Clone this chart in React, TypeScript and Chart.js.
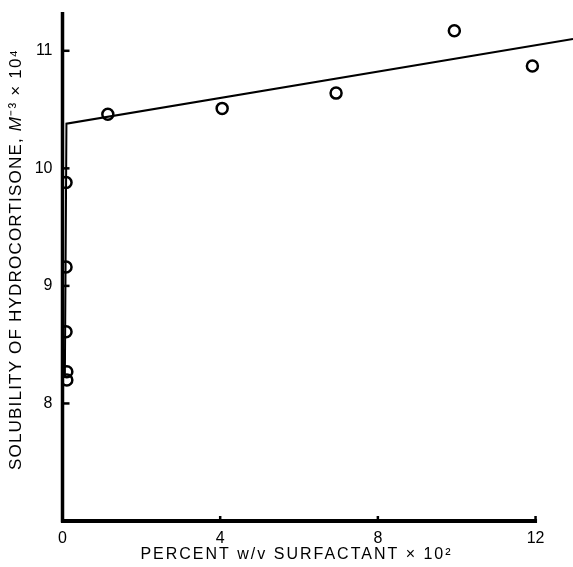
import React, { useEffect, useRef } from 'react';
import { Chart, registerables } from 'chart.js';

Chart.register(...registerables);

// Measured points (percent w/v surfactant x 10^2, solubility M^-3 x 10^4)
const POINT_X = [0.09, 0.09, 0.09, 0.11, 0.11, 1.15, 4.05, 6.94, 9.94, 11.92];
const POINT_Y = [9.88, 9.16, 8.61, 8.27, 8.2, 10.46, 10.51, 10.64, 11.17, 10.87];
// Drawn fit line
const LINE_X = [0.06, 0.1, 12.95];
const LINE_Y = [8.22, 10.38, 11.1];

const X_TICKS = [0, 4, 8, 12];
const Y_TICKS = [8, 9, 10, 11];
const X_MIN = 0;
const X_MAX = 12.95;
const Y_MIN = 7;
const Y_MAX = 11.33;

const X_TITLE = 'PERCENT w/v SURFACTANT × 10²';
const Y_TITLE_PARTS: [string, boolean][] = [
  ['SOLUBILITY OF HYDROCORTISONE, ', false],
  ['M', true],
  ['⁻³ × 10⁴', false],
];

const FONT = '"Liberation Sans", Arial, sans-serif';

const axesPlugin = {
  id: 'paperAxes',
  afterDatasetsDraw(chart: any) {
    const ctx = chart.ctx as CanvasRenderingContext2D;
    const xs = chart.scales.x;
    const ys = chart.scales.y;
    const ca = chart.chartArea;
    const x0 = xs.getPixelForValue(X_MIN);
    const yb = ys.getPixelForValue(Y_MIN);
    ctx.save();
    ctx.strokeStyle = '#000';
    ctx.lineCap = 'butt';
    // y axis
    ctx.lineWidth = 3.5;
    ctx.beginPath();
    ctx.moveTo(x0, ca.top);
    ctx.lineTo(x0, yb + 1.5);
    ctx.stroke();
    // x axis up to last tick
    ctx.lineWidth = 4;
    ctx.beginPath();
    ctx.moveTo(x0 - 1.5, yb);
    ctx.lineTo(xs.getPixelForValue(X_TICKS[X_TICKS.length - 1]) + 1.5, yb);
    ctx.stroke();
    // inward ticks
    ctx.lineWidth = 2.5;
    Y_TICKS.forEach((v) => {
      const py = ys.getPixelForValue(v);
      ctx.beginPath();
      ctx.moveTo(x0, py);
      ctx.lineTo(x0 + 7, py);
      ctx.stroke();
    });
    X_TICKS.forEach((v) => {
      if (v === 0) return;
      const px = xs.getPixelForValue(v);
      ctx.beginPath();
      ctx.moveTo(px, yb);
      ctx.lineTo(px, yb - 5);
      ctx.stroke();
    });

    // tick labels
    ctx.fillStyle = '#000';
    ctx.font = `16px ${FONT}`;
    ctx.textAlign = 'right';
    ctx.textBaseline = 'middle';
    Y_TICKS.forEach((v) => {
      ctx.fillText(String(v), x0 - 10, ys.getPixelForValue(v));
    });
    ctx.textAlign = 'center';
    ctx.textBaseline = 'top';
    X_TICKS.forEach((v) => {
      ctx.fillText(String(v), xs.getPixelForValue(v), yb + 10);
    });

    // titles
    ctx.textBaseline = 'middle';
    ctx.textAlign = 'center';
    (ctx as any).letterSpacing = '2px';
    ctx.font = `16px ${FONT}`;
    ctx.fillText(X_TITLE, ca.left + 234, ca.bottom + 34);

    ctx.translate(16, (ca.top + ca.bottom) / 2 - 7);
    ctx.rotate(-Math.PI / 2);
    ctx.textAlign = 'left';
    (ctx as any).letterSpacing = '1.2px';
    const fonts = Y_TITLE_PARTS.map(([, it]) => `${it ? 'italic ' : ''}17px ${FONT}`);
    let total = 0;
    const widths = Y_TITLE_PARTS.map(([t], i) => {
      ctx.font = fonts[i];
      const w = ctx.measureText(t).width;
      total += w;
      return w;
    });
    let cx = -total / 2;
    Y_TITLE_PARTS.forEach(([t], i) => {
      ctx.font = fonts[i];
      ctx.fillText(t, cx, 0);
      cx += widths[i];
    });
    ctx.restore();
  },
};

export default function App() {
  const ref = useRef<HTMLCanvasElement | null>(null);

  useEffect(() => {
    if (!ref.current) return;
    const chart = new Chart(ref.current, {
      type: 'scatter',
      data: {
        datasets: [
          {
            type: 'line',
            label: 'fit',
            data: LINE_X.map((x, i) => ({ x, y: LINE_Y[i] })),
            borderColor: '#000',
            borderWidth: 2,
            pointRadius: 0,
            fill: false,
            tension: 0,
            order: 2,
          } as any,
          {
            type: 'scatter',
            label: 'data',
            data: POINT_X.map((x, i) => ({ x, y: POINT_Y[i] })),
            borderColor: '#000',
            backgroundColor: 'rgba(0,0,0,0)',
            borderWidth: 2.5,
            pointRadius: 5.5,
            order: 1,
          },
        ],
      },
      options: {
        animation: false,
        responsive: false,
        maintainAspectRatio: false,
        layout: { autoPadding: false, padding: { top: 12, right: 0, left: 0, bottom: 0 } },
        plugins: {
          legend: { display: false },
          tooltip: { enabled: false },
        },
        scales: {
          x: {
            type: 'linear',
            min: X_MIN,
            max: X_MAX,
            bounds: 'data',
            afterBuildTicks: (s: any) => {
              s.ticks = X_TICKS.map((value) => ({ value }));
            },
            afterFit: (s: any) => {
              s.height = 46;
              s.paddingLeft = 0;
              s.paddingRight = 0;
            },
            grid: { display: false, drawTicks: false },
            border: { display: false },
            ticks: { display: false },
          },
          y: {
            type: 'linear',
            min: Y_MIN,
            max: Y_MAX,
            bounds: 'data',
            afterBuildTicks: (s: any) => {
              s.ticks = Y_TICKS.map((value) => ({ value }));
            },
            afterFit: (s: any) => {
              s.width = 62.5;
              s.paddingTop = 0;
              s.paddingBottom = 0;
            },
            grid: { display: false, drawTicks: false },
            border: { display: false },
            ticks: { display: false },
          },
        },
      },
      plugins: [axesPlugin],
    });
    return () => chart.destroy();
  }, []);

  return (
    <div style={{ position: 'fixed', left: 0, top: 0, width: 573, height: 567, background: '#fff', overflow: 'hidden' }}>
      <canvas ref={ref} width={573} height={567} style={{ display: 'block' }} />
    </div>
  );
}
